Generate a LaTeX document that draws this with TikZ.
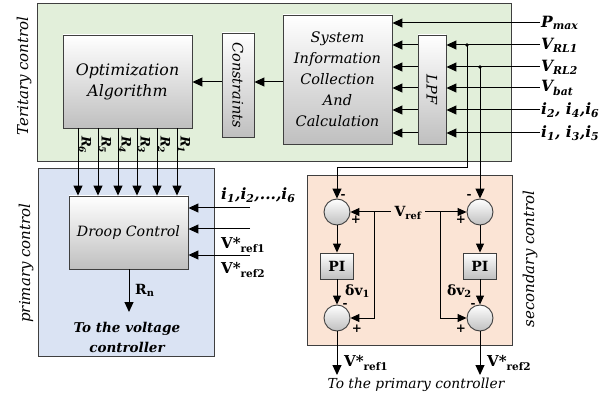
\documentclass[tikz,border=0pt]{standalone}
\usepackage{fontspec}
\setmainfont{DejaVu Serif}
\usepackage{tikz}
\usetikzlibrary{arrows.meta,positioning}
\definecolor{tertGreen}{HTML}{E2EFDA}
\definecolor{primBlue}{HTML}{DAE3F3}
\definecolor{secPeach}{HTML}{FBE4D5}
\definecolor{edgeGray}{HTML}{3F3F3F}
\newcommand{\fsz}[2]{\fontsize{#1}{#2}\selectfont}

\begin{document}
\begin{tikzpicture}[x=1pt,y=-1pt,
  panel/.style={draw=edgeGray,line width=0.9pt,inner sep=0pt},
  block/.style={draw=edgeGray,line width=0.9pt,top color=white,bottom color=black!25,align=center,inner sep=0pt,font=\fsz{14.5}{21}\itshape},
  sumnode/.style={circle,draw=edgeGray,line width=0.9pt,minimum size=26pt,inner sep=0pt,top color=white,bottom color=black!25},
  sidetxt/.style={rotate=90,font=\fsz{15}{20}\itshape},
  inlbl/.style={anchor=west,inner sep=1pt,font=\fsz{15.5}{20}\bfseries\itshape},
  reflbl/.style={anchor=west,inner sep=1pt,font=\fsz{15}{20}\bfseries},
  sign/.style={inner sep=0pt,font=\fsz{12}{12}\bfseries},
  arrow/.style={-{Triangle[length=10pt,width=9pt]},line width=1pt},
  sarrow/.style={-{Triangle[length=9pt,width=8pt]},line width=1pt}
]
\useasboundingbox (0,0) rectangle (613,398);
% control layers
\node[panel,fill=tertGreen,minimum width=474pt,minimum height=158pt] (tertiary) at (274,82) {};
\node[panel,fill=primBlue,minimum width=176pt,minimum height=188pt] (primary) at (126,262) {};
\node[panel,fill=secPeach,minimum width=205pt,minimum height=170pt] (secondary) at (409.5,260) {};
\node[sidetxt] (tertlbl) at (24,76) {Teritary control};
\node[sidetxt] (primlbl) at (26,263) {primary control};
\node[sidetxt] (seclbl) at (530,259) {secondary control};

% tertiary blocks
\node[block,minimum width=129pt,minimum height=93pt,font=\fsz{15.8}{21}\itshape] (opt) at (127.5,81.5) {Optimization\\Algorithm};
\node[block,minimum width=32pt,minimum height=104pt] (cons) at (238,85) {};
\node[rotate=-90,font=\fsz{14.5}{20}\itshape] (conslbl) at (cons) {Constraints};
\node[block,minimum width=109pt,minimum height=129pt] (sysinfo) at (337.5,79.5) {System\\Information\\Collection\\And\\Calculation};
\node[block,minimum width=28pt,minimum height=109pt] (lpf) at (432,89.5) {};
\node[rotate=-90,font=\fsz{14.5}{20}\itshape] (lpflbl) at (lpf) {LPF};
\draw[arrow] (sysinfo.west |- 0,82) -- (cons.east |- 0,82);
\draw[arrow] (cons.west |- 0,82) -- (opt.east |- 0,82);

% measured inputs
\node[inlbl] (pmax) at (540,23) {P\textsubscript{max}};
\node[inlbl] (vrl1) at (540,45) {V\textsubscript{RL1}};
\node[inlbl] (vrl2) at (540,67) {V\textsubscript{RL2}};
\node[inlbl] (vbat) at (540,88) {V\textsubscript{bat}};
\node[inlbl] (ieven) at (540,110) {i\textsubscript{2}, i\textsubscript{4},i\textsubscript{6}};
\node[inlbl] (iodd) at (540,133) {i\textsubscript{1}, i\textsubscript{3},i\textsubscript{5}};
\draw[arrow] (pmax.west) -- (pmax.west -| sysinfo.east);
\foreach \src in {vrl1,vrl2,vbat,ieven,iodd}{
  \draw[arrow] (\src.west) -- (\src.west -| lpf.east);
  \draw[arrow] (\src.west -| lpf.west) -- (\src.west -| sysinfo.east);
}

% primary control
\node[block,minimum width=119pt,minimum height=73pt,font=\fsz{14.2}{20}\itshape] (droop) at (128.5,232.5) {Droop Control};
\foreach \xx/\k in {78/6,98/5,118/4,137/3,157/2,177/1}{
  \coordinate (rx\k) at (\xx,0);
  \draw[arrow] (opt.south -| rx\k) -- (droop.north -| rx\k);
  \node[rotate=-90,inner sep=0pt,font=\fsz{13}{14}\bfseries\itshape] (rlbl\k) at (\xx+7,145) {R\textsubscript{\k}};
}
\coordinate (din1) at (250,208);
\coordinate (din2) at (250,229);
\coordinate (din3) at (250,255);
\foreach \d in {din1,din2,din3}{
  \draw[arrow] (\d) -- (\d -| droop.east);
}
\node[inlbl] (ilbl) at (220,195) {i\textsubscript{1},i\textsubscript{2},...,i\textsubscript{6}};
\node[reflbl] (vin1) at (220,245) {V*\textsubscript{ref1}};
\node[reflbl] (vin2) at (220,270) {V*\textsubscript{ref2}};
\coordinate (rnend) at (129,312);
\draw[arrow] (droop.south -| rnend) -- (rnend);
\node[reflbl,font=\fsz{14}{18}\bfseries] (rnlbl) at (134,290) {R\textsubscript{n}};
\node[align=center,font=\fsz{13.5}{20}\bfseries\itshape] (tovolt) at (127,337) {To the voltage\\controller};

% secondary control
\node[sumnode] (c1) at (337,212) {};
\node[sumnode] (c2) at (337,318) {};
\node[sumnode] (c3) at (480,212) {};
\node[sumnode] (c4) at (480,318) {};
\node[block,minimum width=33pt,minimum height=26pt,font=\fsz{14}{18}\bfseries] (pi1) at (337,266) {PI};
\node[block,minimum width=33pt,minimum height=26pt,font=\fsz{14}{18}\bfseries] (pi2) at (480,266) {PI};
\node[font=\fsz{14}{18}\bfseries] (vref) at (408,213) {V\textsubscript{ref}};
\coordinate (tap1) at (467,45);
\coordinate (tap2) at (480,67);
\coordinate (bend1) at (467,168);
\fill (tap1) circle (1.8pt) (tap2) circle (1.8pt);
\draw[arrow] (tap1) -- (bend1) -| (c1.north);
\draw[arrow] (tap2) -- (c3.north);
\coordinate (split1) at (374,212);
\coordinate (split2) at (440,212);
\draw[sarrow] (vref.west |- split1) -- (c1.east);
\draw[sarrow] (split1) |- (c2.east);
\draw[sarrow] (vref.east |- split2) -- (c3.west);
\draw[sarrow] (split2) |- (c4.west);
\draw[sarrow] (c1.south) -- (pi1.north);
\draw[sarrow] (pi1.south) -- (c2.north);
\draw[sarrow] (c3.south) -- (pi2.north);
\draw[sarrow] (pi2.south) -- (c4.north);
\node[font=\fsz{14}{18}\bfseries,anchor=west,inner sep=1pt] (dv1) at (344,291) {δv\textsubscript{1}};
\node[font=\fsz{14}{18}\bfseries,anchor=east,inner sep=1pt] (dv2) at (473,291) {δv\textsubscript{2}};
% signs
\node[sign] at (343,196) {-};
\node[sign] at (356,220) {+};
\node[sign] at (469,196) {-};
\node[sign] at (461,220) {+};
\node[sign] at (345,305) {-};
\node[sign] at (357,329) {+};
\node[sign] at (473,305) {-};
\node[sign] at (461,329) {+};
% outputs
\coordinate (out1) at (337,375);
\coordinate (out2) at (480,375);
\draw[arrow] (c2.south) -- (out1);
\draw[arrow] (c4.south) -- (out2);
\node[reflbl] (vout1) at (343,363) {V*\textsubscript{ref1}};
\node[reflbl] (vout2) at (486,363) {V*\textsubscript{ref2}};
\node[font=\fsz{13.8}{20}\itshape] (toprim) at (416,385) {To the primary controller};
\end{tikzpicture}
\end{document}
